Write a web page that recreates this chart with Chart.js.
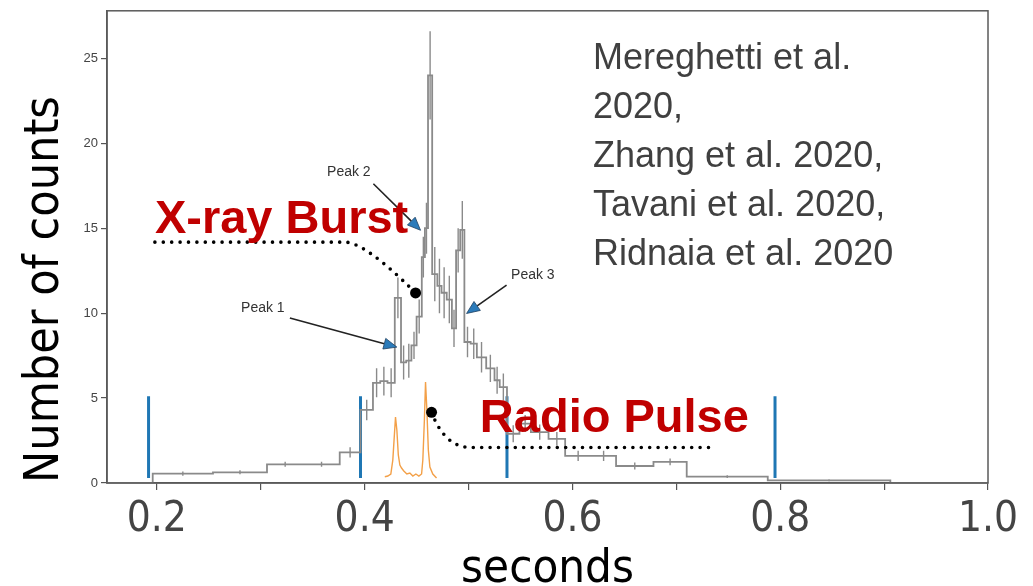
<!DOCTYPE html>
<html lang="en">
<head>
    <meta charset="UTF-8">
    <title>Number of counts vs seconds</title>
    <style>
        html, body { margin: 0; padding: 0; background: #fff; }
        #wrap { width: 1033px; height: 586px; }
    </style>
</head>
<body>
    <div id="wrap"><canvas id="lc" width="1033" height="586"></canvas></div>

    <script src="https://cdn.jsdelivr.net/npm/chart.js"></script>
    <script>
        // X-ray light curve: bin edges (s), counts per bin and 1-sigma errors
        const binEdges = [0.152, 0.196, 0.254, 0.306, 0.341, 0.376, 0.396, 0.408, 0.415, 0.422,
                          0.429, 0.435, 0.440, 0.445, 0.450, 0.455, 0.458, 0.461, 0.465, 0.470,
                          0.474, 0.479, 0.484, 0.488, 0.492, 0.496, 0.502, 0.508, 0.517, 0.525,
                          0.530, 0.537, 0.549, 0.560, 0.577, 0.593, 0.618, 0.642, 0.678, 0.710,
                          0.788, 0.906, 1.0];
        const binCounts = [0, 0.55, 0.63, 1.1, 1.1, 1.8, 4.3, 5.9, 6.0, 5.9,
                           10.9, 7.1, 7.2, 8.1, 9.8, 13.3, 15.0, 24.0, 12.3, 11.6,
                           11.2, 10.8, 9.1, 13.7, 14.9, 8.3, 8.2, 7.4, 6.75, 6.05,
                           5.65, 2.9, 3.5, 3.0, 2.6, 1.6, 1.6, 1.0, 1.24, 0.37,
                           0.16, 0];
        const binErrors = [0, 0.12, 0.12, 0.15, 0.15, 0.3, 0.6, 0.85, 0.85, 0.85,
                           1.2, 1.0, 1.0, 0.8, 1.0, 1.2, 1.5, 2.6, 1.6, 1.6,
                           1.5, 1.4, 1.1, 1.3, 1.7, 0.9, 0.9, 0.9, 0.8, 0.8,
                           0.8, 0.5, 0.5, 0.45, 0.4, 0.3, 0.3, 0.2, 0.2, 0.08,
                           0.05, 0];

        // radio profile (arbitrary scale, drawn on the counts axis)
        const radioTime = [0.4194, 0.4223, 0.4252, 0.4271, 0.4286, 0.4297, 0.4310, 0.4324, 0.4339, 0.4355,
                           0.4377, 0.4406, 0.4435, 0.4464, 0.4493, 0.4522, 0.4548, 0.4560, 0.4575, 0.4586,
                           0.4599, 0.4613, 0.4628, 0.4656, 0.4692];
        const radioFlux = [0.37, 0.41, 0.53, 1.35, 2.82, 3.88, 3.12, 1.65, 1.06, 0.88,
                           0.71, 0.53, 0.59, 0.41, 0.53, 0.41, 0.53, 1.35, 3.71, 5.94,
                           4.29, 1.94, 0.94, 0.53, 0.29];

        // vertical interval markers
        const markerTimes = [0.192, 0.396, 0.537, 0.795];
        const markerSpan = [0.3, 5.1];

        const xTicks = [0.2, 0.3, 0.4, 0.5, 0.6, 0.7, 0.8, 0.9, 1.0];
        const xTickLabels = ['0.2', '', '0.4', '', '0.6', '', '0.8', '', '1.0'];
        const yTicks = [0, 5, 10, 15, 20, 25];

        const peakNames = ['Peak 1', 'Peak 2', 'Peak 3'];
        const references = ['Mereghetti et al.', '2020,', 'Zhang et al. 2020,', 'Tavani et al. 2020,', 'Ridnaia et al. 2020'];

        const NARROW = '"DejaVu Sans Condensed", "Liberation Sans Narrow", sans-serif';
        const SANS = '"Liberation Sans", Arial, sans-serif';

        // step outline: left edge of each bin plus the final right edge
        const stepPts = binCounts.map((c, i) => ({ x: binEdges[i], y: c }));
        stepPts.push({ x: binEdges[binEdges.length - 1], y: binCounts[binCounts.length - 1] });

        // error bars as separate vertical segments (null breaks the line)
        const errPts = [];
        binCounts.forEach((c, i) => {
            if (!binErrors[i]) return;
            const mid = (binEdges[i] + binEdges[i + 1]) / 2;
            errPts.push({ x: mid, y: c - binErrors[i] }, { x: mid, y: c + binErrors[i] }, { x: mid, y: null });
        });

        const markerPts = [];
        markerTimes.forEach(t => {
            markerPts.push({ x: t, y: markerSpan[0] }, { x: t, y: markerSpan[1] }, { x: t, y: null });
        });

        const radioPts = radioTime.map((t, i) => ({ x: t, y: radioFlux[i] }));

        // annotation anchors in data units
        const peakArrows = [
            { from: [0.3280, 9.71], to: [0.4310, 8.00], label: [0.3020, 10.29] },
            { from: [0.4084, 17.62], to: [0.4538, 14.88], label: [0.3848, 18.29] },
            { from: [0.5366, 11.65], to: [0.4981, 9.98], label: [0.5619, 12.24] }
        ];

        function arrow(ctx, x0, y0, x1, y1) {
            const ang = Math.atan2(y1 - y0, x1 - x0);
            const len = 13, half = 5.5;
            const bx = x1 - len * Math.cos(ang), by = y1 - len * Math.sin(ang);
            ctx.beginPath();
            ctx.moveTo(x0, y0);
            ctx.lineTo(bx, by);
            ctx.strokeStyle = '#222';
            ctx.lineWidth = 1.6;
            ctx.stroke();
            ctx.beginPath();
            ctx.moveTo(x1, y1);
            ctx.lineTo(bx + half * Math.sin(ang), by - half * Math.cos(ang));
            ctx.lineTo(bx - half * Math.sin(ang), by + half * Math.cos(ang));
            ctx.closePath();
            ctx.fillStyle = '#2b7bba';
            ctx.fill();
            ctx.strokeStyle = '#1d3f5f';
            ctx.lineWidth = 0.8;
            ctx.stroke();
        }

        const overlay = {
            id: 'overlay',
            afterDatasetsDraw(chart) {
                const { ctx, chartArea: a, scales: { x, y } } = chart;
                const px = v => x.getPixelForValue(v);
                const py = v => y.getPixelForValue(v);
                ctx.save();

                // frame
                ctx.strokeStyle = '#5a5a5a';
                ctx.lineWidth = 1.5;
                ctx.strokeRect(a.left, a.top, a.right - a.left, a.bottom - a.top);

                // peak arrows + labels
                peakArrows.forEach((p, i) => {
                    arrow(ctx, px(p.from[0]), py(p.from[1]), px(p.to[0]), py(p.to[1]));
                    ctx.font = '14px ' + SANS;
                    ctx.fillStyle = '#333';
                    ctx.textAlign = 'center';
                    ctx.textBaseline = 'middle';
                    ctx.fillText(peakNames[i], px(p.label[0]), py(p.label[1]));
                });

                // dotted leaders
                ctx.setLineDash([0, 8.4]);
                ctx.lineCap = 'round';
                ctx.lineWidth = 3.6;
                ctx.strokeStyle = '#000';
                ctx.beginPath();
                ctx.moveTo(px(0.1981), py(14.18));
                ctx.lineTo(px(0.3809), py(14.18));
                ctx.quadraticCurveTo(px(0.4002), py(14.18), px(0.4490), py(11.19));
                ctx.stroke();
                ctx.beginPath();
                ctx.moveTo(px(0.4644), py(4.16));
                ctx.quadraticCurveTo(px(0.4772), py(2.12), px(0.5013), py(2.09));
                ctx.lineTo(px(0.7323), py(2.09));
                ctx.stroke();
                ctx.setLineDash([]);

                ctx.fillStyle = '#000';
                [[0.4490, 11.19], [0.4644, 4.16]].forEach(d => {
                    ctx.beginPath();
                    ctx.arc(px(d[0]), py(d[1]), 5.5, 0, Math.PI * 2);
                    ctx.fill();
                });

                // callout titles
                ctx.font = 'bold 47px ' + SANS;
                ctx.fillStyle = '#c00000';
                ctx.textAlign = 'left';
                ctx.textBaseline = 'alphabetic';
                ctx.fillText('X-ray Burst', px(0.1981), py(14.71));
                ctx.fillText('Radio Pulse', px(0.5109), py(3.0));

                // reference list
                ctx.font = '36px ' + SANS;
                ctx.fillStyle = '#404040';
                references.forEach((r, i) => {
                    ctx.fillText(r, a.left + 486, a.top + 58 + i * 49);
                });
                ctx.restore();
            }
        };

        new Chart(document.getElementById('lc'), {
            type: 'line',
            data: {
                datasets: [
                    { data: stepPts, stepped: 'before', borderColor: '#8a8a8a', borderWidth: 1.8, pointRadius: 0 },
                    { data: errPts, borderColor: '#8a8a8a', borderWidth: 1.4, pointRadius: 0, spanGaps: false },
                    { data: radioPts, borderColor: '#f3a048', borderWidth: 1.4, pointRadius: 0 },
                    { data: markerPts, borderColor: '#1f77b4', borderWidth: 3, pointRadius: 0, spanGaps: false }
                ]
            },
            options: {
                responsive: false,
                animation: false,
                layout: { padding: { top: 10, right: 45, left: 0, bottom: 0 } },
                plugins: { legend: { display: false }, tooltip: { enabled: false } },
                scales: {
                    x: {
                        type: 'linear',
                        min: 0.152,
                        max: 1.0,
                        afterBuildTicks: s => { s.ticks = xTicks.map(v => ({ value: v })); },
                        afterFit: s => { s.height = 103; },
                        ticks: {
                            callback: (v, i) => xTickLabels[i],
                            autoSkip: false,
                            maxRotation: 0,
                            padding: 9,
                            color: '#444',
                            font: { family: NARROW, size: 42, lineHeight: 1 }
                        },
                        grid: { drawOnChartArea: false, tickLength: 7, color: '#555', lineWidth: 1.2 },
                        border: { color: '#5a5a5a', width: 1.5 },
                        title: {
                            display: true,
                            text: 'seconds',
                            color: '#000',
                            padding: { top: 0, bottom: -7 },
                            font: { family: NARROW, size: 47, lineHeight: 1 }
                        }
                    },
                    y: {
                        min: 0,
                        max: 27.8,
                        afterBuildTicks: s => { s.ticks = yTicks.map(v => ({ value: v })); },
                        afterFit: s => { s.width = 107; },
                        ticks: { color: '#444', padding: 3, font: { family: SANS, size: 13 } },
                        grid: { drawOnChartArea: false, tickLength: 6, color: '#555', lineWidth: 1.2 },
                        border: { color: '#5a5a5a', width: 1.5 },
                        title: {
                            display: true,
                            text: 'Number of counts',
                            align: 'start',
                            color: '#000',
                            padding: { top: 17, bottom: 0 },
                            font: { family: NARROW, size: 48, lineHeight: 1.2 }
                        }
                    }
                }
            },
            plugins: [overlay]
        });
    </script>
</body>
</html>
